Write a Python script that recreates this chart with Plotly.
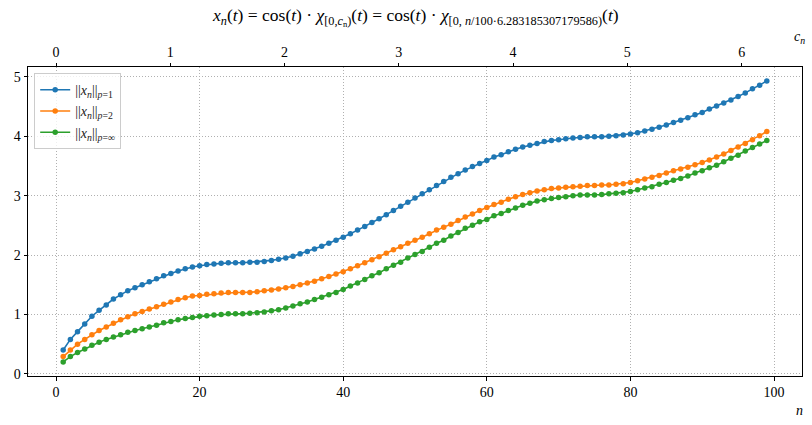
import math
import plotly.graph_objects as go

n_vals = list(range(1, 100))

norm_p1 = [
    0.40, 0.58, 0.71, 0.84, 0.97, 1.07, 1.16, 1.26, 1.33, 1.40,
    1.45, 1.50, 1.55, 1.60, 1.65, 1.69, 1.73, 1.77, 1.80, 1.82,
    1.84, 1.85, 1.86, 1.87, 1.87, 1.87, 1.88, 1.88, 1.89, 1.91,
    1.93, 1.95, 1.98, 2.02, 2.06, 2.10, 2.15, 2.20, 2.25, 2.30,
    2.36, 2.42, 2.48, 2.55, 2.61, 2.68, 2.75, 2.82, 2.89, 2.96,
    3.03, 3.10, 3.17, 3.24, 3.31, 3.37, 3.43, 3.49, 3.54, 3.59,
    3.65, 3.69, 3.74, 3.78, 3.82, 3.85, 3.88, 3.91, 3.93, 3.94,
    3.96, 3.97, 3.98, 3.99, 3.99, 3.99, 4.00, 4.01, 4.02, 4.04,
    4.06, 4.09, 4.12, 4.15, 4.19, 4.23, 4.27, 4.31, 4.36, 4.40,
    4.46, 4.51, 4.56, 4.61, 4.67, 4.73, 4.80, 4.86, 4.93,
]

norm_p2 = [
    0.29, 0.40, 0.50, 0.58, 0.66, 0.73, 0.79, 0.85, 0.91, 0.96,
    1.01, 1.05, 1.09, 1.13, 1.17, 1.21, 1.25, 1.28, 1.31, 1.32,
    1.34, 1.35, 1.36, 1.37, 1.37, 1.37, 1.37, 1.38, 1.40, 1.41,
    1.43, 1.45, 1.47, 1.50, 1.53, 1.56, 1.60, 1.64, 1.68, 1.72,
    1.77, 1.82, 1.87, 1.92, 1.97, 2.03, 2.09, 2.14, 2.20, 2.25,
    2.30, 2.36, 2.42, 2.47, 2.52, 2.58, 2.64, 2.69, 2.75, 2.80,
    2.85, 2.89, 2.94, 2.98, 3.02, 3.05, 3.08, 3.10, 3.12, 3.13,
    3.14, 3.15, 3.16, 3.17, 3.17, 3.18, 3.18, 3.19, 3.20, 3.22,
    3.25, 3.28, 3.31, 3.34, 3.38, 3.42, 3.45, 3.48, 3.52, 3.56,
    3.60, 3.65, 3.70, 3.76, 3.82, 3.88, 3.94, 4.01, 4.08,
]

norm_pinf = [
    0.20, 0.29, 0.36, 0.42, 0.48, 0.53, 0.58, 0.62, 0.66, 0.70,
    0.73, 0.76, 0.79, 0.82, 0.86, 0.88, 0.91, 0.93, 0.95, 0.97,
    0.98, 0.99, 1.00, 1.01, 1.01, 1.01, 1.02, 1.03, 1.04, 1.06,
    1.08, 1.11, 1.14, 1.18, 1.21, 1.25, 1.29, 1.33, 1.37, 1.42,
    1.48, 1.53, 1.59, 1.65, 1.70, 1.77, 1.83, 1.88, 1.95, 2.01,
    2.06, 2.13, 2.20, 2.25, 2.32, 2.38, 2.45, 2.50, 2.56, 2.60,
    2.66, 2.70, 2.75, 2.79, 2.84, 2.87, 2.91, 2.93, 2.95, 2.97,
    2.98, 3.00, 3.01, 3.01, 3.01, 3.02, 3.03, 3.04, 3.05, 3.07,
    3.10, 3.13, 3.15, 3.19, 3.22, 3.26, 3.29, 3.33, 3.38, 3.42,
    3.47, 3.51, 3.57, 3.63, 3.68, 3.75, 3.81, 3.87, 3.93,
]

x_ticks = [0, 20, 40, 60, 80, 100]
c_ticks = [0, 1, 2, 3, 4, 5, 6]
y_ticks = [0, 1, 2, 3, 4, 5]

series_names = [
    "||<i>x</i><sub><i>n</i></sub>||<sub><i>p</i>=1</sub>",
    "||<i>x</i><sub><i>n</i></sub>||<sub><i>p</i>=2</sub>",
    "||<i>x</i><sub><i>n</i></sub>||<sub><i>p</i>=∞</sub>",
]
colors = ["#1f77b4", "#ff7f0e", "#2ca02c"]

FONT = "'Liberation Serif', 'DejaVu Serif', serif"
TWO_PI = 6.283185307179586
c_vals = [n / 100 * TWO_PI for n in n_vals]

fig = go.Figure()
for name, vals, col in zip(series_names, [norm_p1, norm_p2, norm_pinf], colors):
    fig.add_trace(go.Scatter(
        x=n_vals, y=vals, mode="lines+markers", name=name,
        line=dict(color=col, width=1.6),
        marker=dict(color=col, size=5.5),
        xaxis="x", yaxis="y",
    ))

# invisible trace to anchor the top c_n axis
fig.add_trace(go.Scatter(
    x=c_vals, y=norm_p1, mode="markers", marker=dict(opacity=0),
    showlegend=False, hoverinfo="skip", xaxis="x2", yaxis="y",
))

nmin, nmax = -3.9, 103.9
ymin, ymax = -0.0365, 5.166

axis_common = dict(
    showline=True, linecolor="black", linewidth=1,
    ticks="outside", ticklen=3.5, tickwidth=1, tickcolor="black",
    zeroline=False,
    tickfont=dict(family=FONT, size=14, color="black"),
)
GRID = dict(showgrid=True, gridcolor="#b0b0b0", griddash="1px,2px", gridwidth=1)

fig.update_layout(
    width=812, height=425,
    margin=dict(l=27.5, r=9.5, t=67, b=49),
    paper_bgcolor="white", plot_bgcolor="white",
    font=dict(family=FONT, size=14, color="black"),
    showlegend=True,
    legend=dict(
        x=0.008, y=0.98, xanchor="left", yanchor="top",
        bgcolor="rgba(255,255,255,0.8)", bordercolor="#cccccc", borderwidth=1,
        font=dict(family=FONT, size=14, color="#222"),
        tracegroupgap=0, itemwidth=30,
    ),
    xaxis=dict(range=[nmin, nmax], tickvals=x_ticks, mirror=True, **GRID, **axis_common),
    xaxis2=dict(
        range=[nmin / 100 * TWO_PI, nmax / 100 * TWO_PI], tickvals=c_ticks,
        overlaying="x", side="top", anchor="y", showgrid=False,
        **axis_common,
    ),
    yaxis=dict(range=[ymin, ymax], tickvals=y_ticks, mirror=True, **GRID, **axis_common),
    annotations=[
        dict(
            text=("<i>x<sub>n</sub></i>(<i>t</i>) = cos(<i>t</i>) · <i>χ</i><sub>[0,<i>c</i><sub>n</sub>)</sub>(<i>t</i>)"
                  " = cos(<i>t</i>) · <i>χ</i><sub>[0, <i>n</i>/100·6.283185307179586)</sub>(<i>t</i>)"),
            xref="paper", yref="paper", x=0.5, y=1.0, yshift=50,
            xanchor="center", yanchor="middle", showarrow=False,
            font=dict(family=FONT, size=17.5, color="black"),
        ),
        dict(
            text="<i>n</i>", xref="paper", yref="paper", x=1.0, y=0,
            xanchor="center", yanchor="middle", xshift=-3, yshift=-34,
            showarrow=False, font=dict(family=FONT, size=14, color="black"),
        ),
        dict(
            text="<i>c</i><sub><i>n</i></sub>", xref="paper", yref="paper", x=1.0, y=1,
            xanchor="center", yanchor="middle", xshift=-3, yshift=30,
            showarrow=False, font=dict(family=FONT, size=14, color="black"),
        ),
    ],
)

fig.write_html("out.html")
